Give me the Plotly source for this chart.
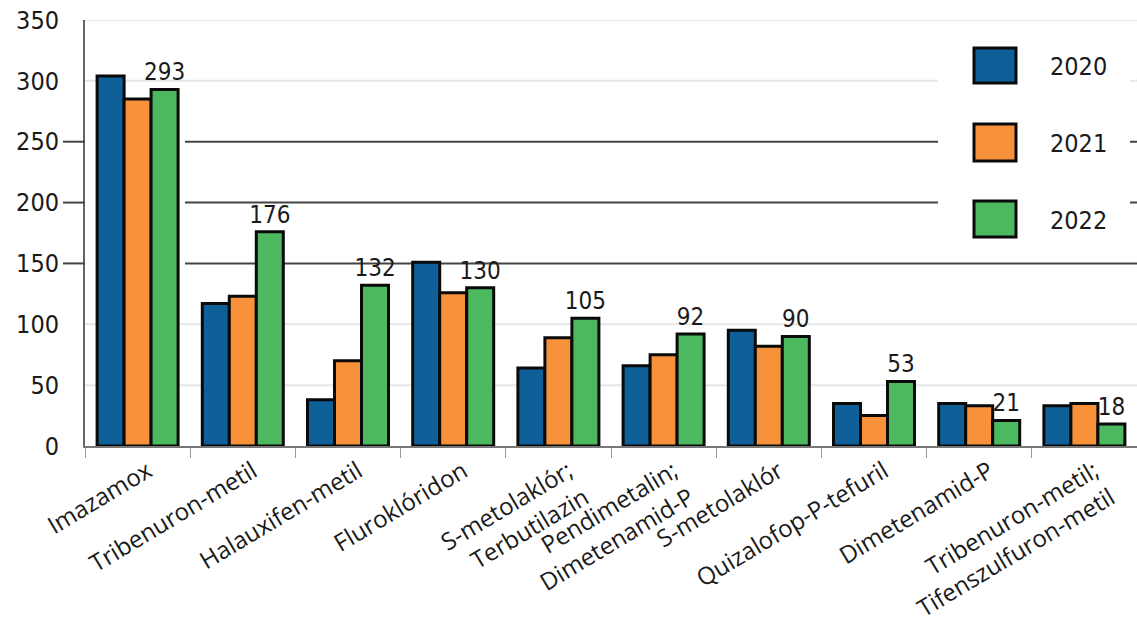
import plotly.graph_objects as go

categories = ["Imazamox", "Tribenuron-metil", "Halauxifen-metil", "Fluroklóridon",
              "S-metolaklór;<br>Terbutilazin", "Pendimetalin;<br>Dimetenamid-P",
              "S-metolaklór", "Quizalofop-P-tefuril", "Dimetenamid-P",
              "Tribenuron-metil;<br>Tifenszulfuron-metil"]
v2020 = [304, 117, 38, 151, 64, 66, 95, 35, 35, 33]
v2021 = [285, 123, 70, 126, 89, 75, 82, 25, 33, 35]
v2022 = [293, 176, 132, 130, 105, 92, 90, 53, 21, 18]
series_names = ["2020", "2021", "2022"]
colors = ["#0f5f98", "#f7923a", "#4cb860"]
y_ticks = [0, 50, 100, 150, 200, 250, 300, 350]
dark_lines = [150, 200, 250]
faint_lines = [50, 100, 300, 350]

NUM_FONT = "DejaVu Sans Condensed, Liberation Sans Narrow, Roboto, sans-serif"
LBL_FONT = "Open Sans, Lato, sans-serif"

fig = go.Figure()
for name, vals, col in zip(series_names, [v2020, v2021, v2022], colors):
    fig.add_trace(go.Bar(
        name=name, x=categories, y=vals,
        marker=dict(color=col, line=dict(color="#0a0a0a", width=3)),
        text=vals if name == "2022" else None,
        textposition="outside" if name == "2022" else "none",
        textfont=dict(family=NUM_FONT, size=24, color="#1a1a1a"),
        constraintext="none",
        cliponaxis=False,
        showlegend=False,
    ))

W, H = 1137, 630
L, R, T, B = 85, 0, 20, 184
pw, ph = W - L - R, H - T - B

def px(x):
    return (x - L) / pw

def py(y):
    return (H - B - y) / ph

shapes = []
for yv in faint_lines:
    shapes.append(dict(type="line", xref="x domain", yref="y", x0=0, x1=1, y0=yv, y1=yv,
                       line=dict(color="#e6e6e6", width=2), layer="below"))
for yv in dark_lines:
    shapes.append(dict(type="line", xref="x domain", yref="y", x0=px(185), x1=1, y0=yv, y1=yv,
                       line=dict(color="#444", width=2), layer="below"))
# legend background box
shapes.append(dict(type="rect", xref="x domain", yref="y domain", x0=px(938), x1=px(1130), y0=py(250), y1=py(30),
                   fillcolor="white", line=dict(width=0), layer="below"))
# left tick marks for the dark lines
for yv in dark_lines:
    shapes.append(dict(type="line", xref="paper", yref="y", x0=px(63), x1=0, y0=yv, y1=yv,
                       line=dict(color="#444", width=2), layer="above"))
annotations = []
leg_rows = [(48, 83), (124, 161), (201, 237)]
for (y0, y1), name, col in zip(leg_rows, series_names, colors):
    shapes.append(dict(type="rect", xref="x domain", yref="y domain", x0=px(974), x1=px(1016), y0=py(y1), y1=py(y0),
                       fillcolor=col, line=dict(color="#0a0a0a", width=3), layer="above"))
    annotations.append(dict(xref="paper", yref="paper", x=px(1048), y=py((y0 + y1) / 2 + 1), text=name,
                            showarrow=False, xanchor="left", yanchor="middle",
                            font=dict(family=NUM_FONT, size=25, color="#1a1a1a")))

fig.update_layout(
    width=W, height=H,
    margin=dict(l=L, r=R, t=T, b=B, autoexpand=False),
    paper_bgcolor="white", plot_bgcolor="white",
    barmode="group", bargap=0.23, bargroupgap=0,
    shapes=shapes, annotations=annotations,
    showlegend=False,
)
fig.update_xaxes(
    showline=True, linecolor="#777", linewidth=2,
    ticks="outside", tickson="boundaries", ticklen=10, tickcolor="#999", tickwidth=1,
    tickangle=-31, tickfont=dict(family=LBL_FONT, size=24, color="#1a1a1a"),
    ticklabelshift=10, ticklabelstandoff=0,
    showgrid=False,
)
fig.update_yaxes(
    range=[0, 350], tickvals=y_ticks,
    showline=True, linecolor="#666", linewidth=2,
    ticks="outside", ticklen=19, tickcolor="rgba(0,0,0,0)",
    tickfont=dict(family=NUM_FONT, size=25, color="#1a1a1a"),
    showgrid=False,
    zeroline=False,
)
fig.write_html("out.html")
